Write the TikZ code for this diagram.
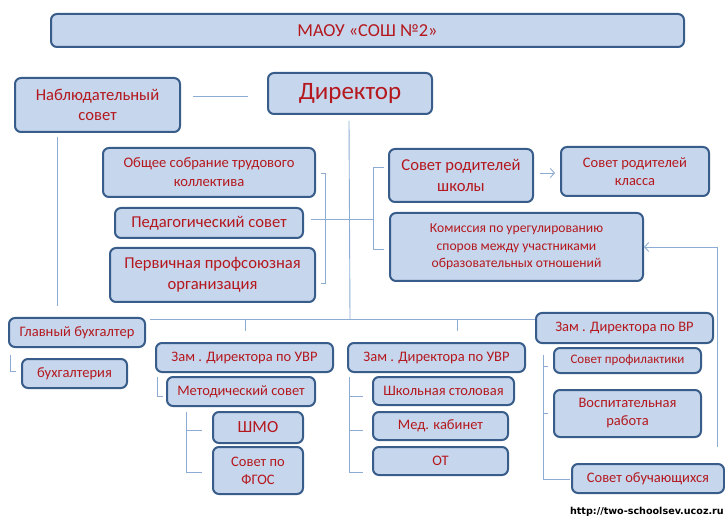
\documentclass[tikz,border=0pt]{standalone}
\usepackage{fontspec}
\setmainfont{Carlito}
\newfontfamily\markfont{DejaVu Sans}
\usepackage{tikz}
\usetikzlibrary{calc, %for relative coord calculations
                arrows.meta, % for open arrow tips
                positioning}

\definecolor{boxfill}{RGB}{198,214,236}
\definecolor{boxline}{RGB}{56,93,138}
\definecolor{boxtext}{RGB}{180,24,30}
\definecolor{linkline}{RGB}{140,172,212}

\begin{document}
\begin{tikzpicture}[x=1pt, y=-1pt,
                    Box/.style={draw=boxline, line width=2pt, rounded corners=6pt, fill=boxfill,
                                text=boxtext, align=center, inner sep=0pt},
                    link/.style={draw=linkline, line width=0.9pt},
                    openarrow/.style={link, -{Straight Barb[length=4pt, width=9pt]}},
                    fA/.style={font=\fontsize{14.5}{18}\selectfont},
                    fB/.style={font=\fontsize{14.6}{19}\selectfont},
                    fC/.style={font=\fontsize{16.6}{20.5}\selectfont}
                    ]
    \useasboundingbox (0,0) rectangle (725,518);

    % TOP %
    \node[Box, minimum width=633, minimum height=33, font=\fontsize{18.3}{22}\selectfont] (Title) at (367.5,30.5) {МАОУ «СОШ №2»};
    \node[Box, minimum width=164, minimum height=41, font=\fontsize{25}{28}\selectfont] (Dir) at (350,93.5) {Директор};
    \node[Box, fC, minimum width=165, minimum height=54] (Nab) at (97.5,105) {Наблюдательный\\совет};

    % LEFT COUNCILS %
    \node[Box, fB, minimum width=212, minimum height=49] (Obs) at (209,172.5) {Общее собрание трудового\\коллектива};
    \node[Box, fC, minimum width=188, minimum height=30] (Ped) at (209,223) {Педагогический совет};
    \node[Box, fC, minimum width=205, minimum height=54] (Perv) at (212.5,275) {Первичная профсоюзная\\организация};

    % RIGHT COUNCILS %
    \node[Box, fC, minimum width=144, minimum height=53] (SovRod) at (461,175.5) {Совет родителей\\школы};
    \node[Box, fA, minimum width=148, minimum height=49] (SovKl) at (635,171.5) {Совет родителей\\класса};
    \node[Box, font=\fontsize{13.6}{17.5}\selectfont, minimum width=253, minimum height=68] (Kom) at (516.5,247) {Комиссия по урегулированию\\споров между участниками\\образовательных отношений};

    % LOWER ROW %
    \node[Box, fA, minimum width=136, minimum height=29] (GlB) at (77,332.5) {Главный бухгалтер};
    \node[Box, fA, minimum width=105, minimum height=29] (Buh) at (74.5,373.5) {бухгалтерия};

    \node[Box, fA, minimum width=177, minimum height=29] (ZamA) at (244.5,357.5) {Зам . Директора по УВР};
    \node[Box, fA, minimum width=148, minimum height=29] (Met) at (241,391.5) {Методический совет};
    \node[Box, font=\fontsize{17}{20}\selectfont, minimum width=90, minimum height=31] (Shmo) at (258,427.5) {ШМО};
    \node[Box, fA, minimum width=90, minimum height=47] (Fgos) at (258,470.5) {Совет по\\ФГОС};

    \node[Box, fA, minimum width=177, minimum height=29] (ZamB) at (436.5,357.5) {Зам . Директора по УВР};
    \node[Box, fA, minimum width=141, minimum height=28] (Stol) at (443.5,391) {Школьная столовая};
    \node[Box, fA, minimum width=135, minimum height=28] (Med) at (440.5,426) {Мед. кабинет};
    \node[Box, fA, minimum width=135, minimum height=28] (OT) at (440.5,461) {ОТ};

    \node[Box, fA, minimum width=177, minimum height=30] (ZamV) at (624.5,328) {Зам . Директора по ВР};
    \node[Box, font=\fontsize{13}{16}\selectfont, minimum width=147, minimum height=25] (Prof) at (627.5,360.5) {Совет профилактики};
    \node[Box, fA, minimum width=147, minimum height=47] (Vosp) at (627.5,413.5) {Воспитательная\\работа};
    \node[Box, fA, minimum width=152, minimum height=29] (Obuch) at (648,478.5) {Совет обучающихся};

    % LINKS %
    \draw[link, shorten <=12, shorten >=19] (Nab.east |- 0,96) -- (Dir.west |- 0,96);
    \coordinate (BusL) at (150,319);
    \draw[link] ($(Dir.south)+(-1,6)$) -- (Dir.south |- BusL);
    \draw[link] (BusL) -- (BusL -| ZamV.west);
    \foreach \x in {245,457}
    \draw[link] (\x,319) -- (\x,331);
    \draw[link] (57,137) -- (57,306);

    \draw[link] (321,173) -- (325,173) -- (325,283) -- (321,283);
    \draw[link] (384,167) -- (373,167) -- (373,249) -- (384,249);
    \draw[link] (Ped.east |- 0,219) ++(7,0) -- (373,219);
    \draw[openarrow] ($(SovRod.east)+(6,-2.5)$) -- ($(SovKl.west)+(-5,1.5)$);
    \coordinate (ObFree) at (717,447);
    \draw[openarrow] (ObFree) -- (ObFree |- Kom.east) -- (Kom.east);

    % BRACKETS BELOW %
    \draw[link] (10,355) -- (10,371) -- (16,371);
    \draw[link] (157,377) -- (157,396) -- (163,396);
    \draw[link] (186,412) -- (186,472) -- (202,472);
    \draw[link] (186,430) -- (202,430);
    \draw[link] (349,377) -- (349,472) -- (363,472);
    \foreach \y in {396,430}
    \draw[link] (349,\y) -- (363,\y);
    \draw[link] (543,355) -- (543,479) -- (570,479);
    \foreach \y in {366,413}
    \draw[link] (543,\y) -- (548,\y);

    % WATERMARK %
    \node[anchor=east, inner sep=0pt, font=\markfont\bfseries\fontsize{9.6}{11}\selectfont] (Mark) at (724,512) {http://two-schoolsev.ucoz.ru};
\end{tikzpicture}
\end{document}
